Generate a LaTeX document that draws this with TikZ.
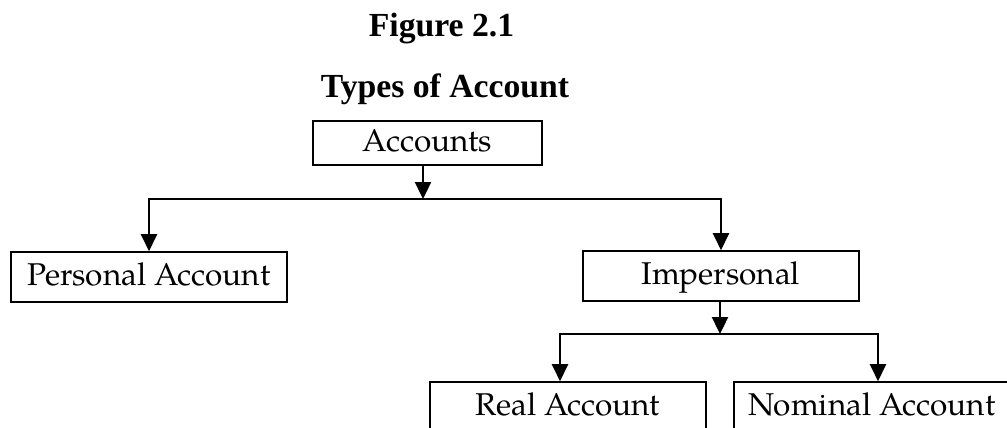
\documentclass[tikz,border=0pt]{standalone}
\usepackage{fontspec}
\setmainfont{Liberation Serif}
\newfontfamily\pal{TeX Gyre Pagella}
\usetikzlibrary{arrows.meta,calc}
\begin{document}
\begin{tikzpicture}[x=1pt,y=-1pt,
  box/.style={draw=black,line width=1.6pt,minimum width=276pt,minimum height=50pt,inner sep=0pt,
    text height=21pt,text depth=5pt,font=\pal\fontsize{31.5}{36}\selectfont},
  conn/.style={line width=2.4pt,-{Triangle[width=16pt,length=17pt]}},
  ttl/.style={anchor=base,inner sep=0pt,font=\bfseries\fontsize{33.7}{40}\selectfont}]
\clip (0,0) rectangle (1007,428);
\fill[white] (0,0) rectangle (1007,428);
\node[ttl] (fig) at (441.5,37) {Figure 2.1};
\node[ttl] (typ) at (445,97) {Types of Account};
\node[box,minimum width=229pt,minimum height=44pt] (acc) at (427.5,143) {Accounts};
\node[box] (pers) at (149,277) {Personal Account};
\node[box] (imp) at (721,276) {Impersonal};
\node[box] (real) at (568,407) {Real Account};
\node[box] (nom) at (872,407) {Nominal Account};
\coordinate (j1) at (423,199);
\coordinate (j2) at (720,334);
\draw[conn] ([xshift=-4.5pt]acc.south) -- (j1);
\draw[conn] (j1) -| (pers.north);
\draw[conn] (j1) -| (imp.north);
\draw[conn] ([xshift=-1pt]imp.south) -- (j2);
\draw[conn] (j2) -| ([xshift=-8pt]real.north);
\draw[conn] (j2) -| ([xshift=6pt]nom.north);
\end{tikzpicture}
\end{document}
